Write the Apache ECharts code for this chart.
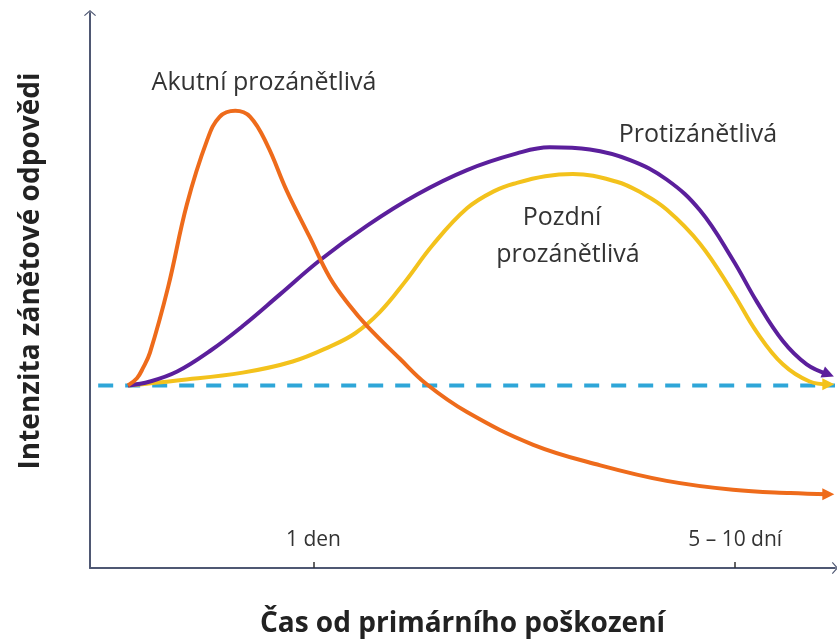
<!DOCTYPE html>
<html>
<head>
<meta charset="utf-8">
<script src="https://cdn.jsdelivr.net/npm/echarts@6/dist/echarts.min.js"></script>
<style>html,body{margin:0;padding:0;background:#fff}#c{width:837px;height:643px}</style>
</head>
<body>
<div id="c"></div>
<script>
// x: relative time (0–100 across the axis), y: response intensity (0–100)
const baseline = [[1.1, 32.9], [100, 32.9]];
const acute = [[5.1,32.9],[6.3,34.2],[7.1,36.0],[8.05,38.8],[10.5,50.7],[13.0,65.5],[15.7,77.0],[17.4,81.3],[19.5,82.4],[21.5,81.3],[23.8,76.2],[26.4,68.0],[29.5,59.6],[32.2,52.3],[34.9,47.2],[37.2,43.6],[41.6,37.7],[45.2,33.1],[50.6,28.1],[59.5,22.2],[68.5,18.5],[77.4,15.7],[86.3,14.1],[94.0,13.5],[99.1,13.3]];
const anti = [[5.1,32.9],[8.05,33.6],[11.7,35.4],[16.1,39.1],[20.5,43.6],[25.5,49.3],[30.9,55.5],[37.2,61.7],[43.9,67.3],[50.6,71.7],[57.3,74.7],[61.7,75.8],[67.1,75.4],[72.5,73.5],[77.4,70.0],[81.9,64.4],[86.3,55.5],[89.5,48.0],[93.0,40.9],[96.2,36.7],[99.1,34.9]];
const late = [[5.1,32.9],[11.7,33.8],[20.5,35.2],[27.2,37.2],[32.2,39.9],[35.6,42.3],[38.9,46.1],[42.3,51.6],[46.0,58.2],[50.6,64.8],[54.4,68.0],[57.3,69.4],[61.1,70.6],[64.8,71.0],[70.7,69.6],[74.0,67.6],[77.4,64.6],[81.9,58.4],[86.3,49.6],[89.5,42.5],[93.0,36.7],[96.6,33.6],[99.1,33.1]];
const tickValues = [30, 86.6];
const tickLabels = ['1 den', '5 – 10 dní'];
const xTitle = 'Čas od primárního poškození';
const yTitle = 'Intenzita zánětové odpovědi';
const noteAcute = 'Akutní prozánětlivá';
const noteAnti = 'Protizánětlivá';
const noteLate = ['Pozdní', 'prozánětlivá'];

const FONT = 'Open Sans';
const axisColor = '#4f5873';
const chevron = 'path://M0,0 L10,9 L8.6,10.4 L0,2.6 L-8.6,10.4 L-10,9 Z';

function withArrow(arr, rot, size) {
  return arr.map((p, i) => i === arr.length - 1
    ? { value: p, symbol: 'triangle', symbolSize: size, symbolRotate: rot }
    : { value: p });
}

const chart = echarts.init(document.getElementById('c'), null, { renderer: 'canvas' });
const noteStyle = { fontFamily: FONT, fontSize: 25, fill: '#333', align: 'center', verticalAlign: 'middle' };
chart.setOption({
  backgroundColor: '#ffffff',
  animation: false,
  grid: { left: 90, right: 2, top: 13, bottom: 68 },
  xAxis: {
    type: 'value', min: 0, max: 100,
    name: xTitle, nameLocation: 'middle', nameGap: 42,
    nameTextStyle: { fontFamily: FONT, fontWeight: 'bold', fontSize: 28, color: '#222' },
    axisLine: { show: true, symbol: ['none', chevron], symbolSize: [12, 8], lineStyle: { color: axisColor, width: 2 } },
    axisTick: { show: true, inside: true, length: 6, customValues: tickValues, lineStyle: { color: '#333', width: 1.5 } },
    axisLabel: { show: true, inside: true, margin: 17, customValues: tickValues,
      formatter: v => tickLabels[tickValues.indexOf(v)] || '',
      fontFamily: FONT, fontSize: 21, color: '#333' },
    splitLine: { show: false }
  },
  yAxis: {
    type: 'value', min: 0, max: 100,
    axisLine: { show: true, symbol: ['none', chevron], symbolSize: [12, 8], lineStyle: { color: axisColor, width: 2 } },
    axisTick: { show: false }, axisLabel: { show: false }, splitLine: { show: false }
  },
  series: [
    { type: 'line', data: baseline, symbol: 'none', lineStyle: { color: '#2ea6d8', width: 4, type: [15, 12] }, z: 1 },
    { type: 'line', data: withArrow(late, -90, 12), smooth: 0.4, symbol: 'none', showSymbol: true,
      itemStyle: { color: '#f3c21c' }, lineStyle: { color: '#f3c21c', width: 4 }, z: 2 },
    { type: 'line', data: withArrow(anti, -112, 12), smooth: 0.4, symbol: 'none', showSymbol: true,
      itemStyle: { color: '#5b1f9c' }, lineStyle: { color: '#5b1f9c', width: 4 }, z: 3 },
    { type: 'line', data: withArrow(acute, -90, 12), smooth: 0.4, symbol: 'none', showSymbol: true,
      itemStyle: { color: '#ee6b1b' }, lineStyle: { color: '#ee6b1b', width: 4 }, z: 4 }
  ],
  graphic: [
    { type: 'text', x: 31, y: 271, rotation: Math.PI / 2,
      style: { text: yTitle, fontFamily: FONT, fontWeight: 'bold', fontSize: 28, fill: '#222', align: 'center', verticalAlign: 'middle' } },
    { type: 'text', x: 264, y: 83, style: Object.assign({ text: noteAcute }, noteStyle) },
    { type: 'text', x: 698, y: 135, style: Object.assign({ text: noteAnti }, noteStyle) },
    { type: 'text', x: 562, y: 218, style: Object.assign({ text: noteLate[0] }, noteStyle) },
    { type: 'text', x: 568, y: 255, style: Object.assign({ text: noteLate[1] }, noteStyle) }
  ]
});
</script>
</body>
</html>
